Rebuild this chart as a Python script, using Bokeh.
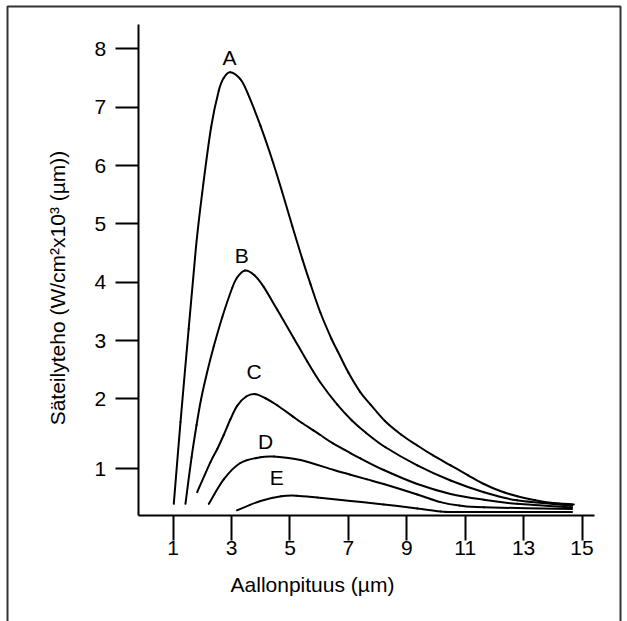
import math
import numpy as np
from bokeh.plotting import figure
from bokeh.models import LinearAxis, FixedTicker, Range1d, BoxAnnotation, Label
from bokeh.embed import file_html
from bokeh.resources import INLINE
from bokeh.core.properties import value

# ---- data ----
x_title = "Aallonpituus (µm)"
y_title = "Säteilyteho (W/cm²x10³ (µm))"

xtick_values = [1, 3, 5, 7, 9, 11, 13, 15]
xtick_labels = ["1", "3", "5", "7", "9", "11", "13", "15"]
ytick_values = [0.8, 2, 3, 4, 5, 6, 7, 8]
ytick_labels = ["1", "2", "3", "4", "5", "6", "7", "8"]

curve_names = ["A", "B", "C", "D", "E"]

a_x = [1.02, 1.25, 1.53, 1.78, 1.99, 2.30, 2.56, 2.73, 2.95, 3.30, 3.56, 3.99, 4.39, 4.73,
       5.08, 5.42, 5.70, 6.04, 6.42, 6.62, 7.00, 7.40, 7.76, 8.25, 8.80, 9.36, 9.90, 10.50,
       11.10, 11.64, 12.20, 12.78, 13.40, 13.92, 14.72]
a_y = [0.20, 1.60, 3.20, 4.60, 5.52, 6.66, 7.28, 7.50, 7.60, 7.48, 7.23, 6.68, 6.10, 5.55,
       4.96, 4.40, 3.97, 3.48, 3.03, 2.83, 2.45, 2.12, 1.90, 1.62, 1.39, 1.20, 1.03, 0.86,
       0.69, 0.54, 0.42, 0.33, 0.26, 0.22, 0.19]

b_x = [1.42, 1.63, 1.80, 1.95, 2.16, 2.39, 2.68, 3.02, 3.19, 3.46, 3.78, 4.10, 4.56, 5.13,
       5.59, 6.04, 6.62, 7.12, 7.60, 8.27, 9.36, 10.50, 11.64, 12.78, 14.66]
b_y = [0.20, 1.00, 1.55, 1.98, 2.45, 2.90, 3.40, 3.90, 4.08, 4.20, 4.12, 3.92, 3.53, 3.04,
       2.64, 2.28, 1.90, 1.63, 1.42, 1.17, 0.86, 0.60, 0.40, 0.26, 0.17]

c_x = [1.82, 2.28, 2.51, 2.73, 2.96, 3.19, 3.50, 3.82, 4.16, 4.56, 5.09, 5.40, 5.80, 6.04,
       6.46, 7.07, 7.41, 8.21, 9.36, 10.50, 11.64, 12.78, 14.66]
c_y = [0.40, 0.92, 1.14, 1.38, 1.65, 1.88, 2.04, 2.08, 2.01, 1.89, 1.70, 1.59, 1.46, 1.38,
       1.24, 1.07, 0.98, 0.78, 0.54, 0.37, 0.27, 0.20, 0.14]

d_x = [2.22, 2.73, 3.30, 3.99, 4.45, 5.36, 6.50, 7.07, 7.64, 8.21, 9.36, 10.15, 10.80,
       11.64, 14.66]
d_y = [0.20, 0.62, 0.90, 1.00, 1.01, 0.95, 0.78, 0.70, 0.62, 0.54, 0.36, 0.23, 0.17,
       0.14, 0.11]

e_x = [3.19, 3.99, 4.70, 5.22, 5.93, 7.07, 8.21, 9.36, 10.15, 11.00, 14.66]
e_y = [0.09, 0.25, 0.33, 0.34, 0.31, 0.25, 0.19, 0.12, 0.07, 0.06, 0.06]

label_x = [2.93, 3.35, 3.77, 4.16, 4.55]
label_y = [7.85, 4.45, 2.47, 1.27, 0.66]

# ---- figure ----
FONT = "Liberation Sans"
FSIZE = "21px"
p = figure(width=627, height=621, output_backend="svg", toolbar_location=None,
           x_axis_location=None, y_axis_location=None,
           x_range=Range1d(-4.914, 16.558), y_range=Range1d(-1.817, 8.829),
           min_border=0, outline_line_color=None,
           background_fill_color="white", border_fill_color="white")
p.grid.visible = False


def style_axis(ax, tick_out):
    ax.axis_line_width = 2
    ax.axis_line_color = "black"
    ax.major_tick_line_width = 2
    ax.major_tick_line_color = "black"
    ax.major_tick_out = tick_out
    ax.major_tick_in = 0
    ax.minor_tick_out = 0
    ax.minor_tick_in = 0
    ax.major_label_text_font = FONT
    ax.major_label_text_font_size = FSIZE
    ax.major_label_text_color = "black"


xaxis = LinearAxis(fixed_location=0, bounds=(-0.2, 15.43),
                   ticker=FixedTicker(ticks=xtick_values),
                   major_label_overrides={v: t for v, t in zip(xtick_values, xtick_labels)})
style_axis(xaxis, 25)
xaxis.major_label_standoff = 0
p.add_layout(xaxis, "below")

yaxis = LinearAxis(fixed_location=-0.2, bounds=(0, 8.42),
                   ticker=FixedTicker(ticks=ytick_values),
                   major_label_overrides={v: t for v, t in zip(ytick_values, ytick_labels)})
style_axis(yaxis, 23)
yaxis.major_label_standoff = 9
p.add_layout(yaxis, "left")


def smooth_curve(xs, ys):
    """Draw a smooth (Catmull-Rom as cubic Bezier) curve through the read points."""
    P = np.column_stack([xs, ys]).astype(float)
    n = len(P)
    seg = {k: [] for k in ("x0", "y0", "x1", "y1", "cx0", "cy0", "cx1", "cy1")}
    for i in range(n - 1):
        p0 = P[i - 1] if i > 0 else P[i]
        p1, p2 = P[i], P[i + 1]
        p3 = P[i + 2] if i + 2 < n else P[i + 1]
        c1 = p1 + (p2 - p0) / 6.0
        c2 = p2 - (p3 - p1) / 6.0
        seg["x0"].append(p1[0]); seg["y0"].append(p1[1])
        seg["x1"].append(p2[0]); seg["y1"].append(p2[1])
        seg["cx0"].append(c1[0]); seg["cy0"].append(c1[1])
        seg["cx1"].append(c2[0]); seg["cy1"].append(c2[1])
    p.bezier(**seg, line_color="black", line_width=2, line_cap="round")


for xs, ys in [(a_x, a_y), (b_x, b_y), (c_x, c_y), (d_x, d_y), (e_x, e_y)]:
    smooth_curve(xs, ys)

p.text(x=label_x, y=label_y, text=curve_names, text_font=value(FONT),
       text_font_size=value(FSIZE), text_align="center", text_baseline="middle",
       text_color="black")

p.add_layout(Label(x=5.77, y=-1.19, text=x_title, text_font=FONT, text_font_size=FSIZE,
                   text_align="center", text_baseline="middle", text_color="black"))
p.add_layout(Label(x=-2.96, y=3.90, text=y_title, text_font=FONT, text_font_size=FSIZE,
                   text_align="center", text_baseline="middle", text_color="black",
                   angle=math.pi / 2))

# frame box around the chart (open at the bottom, as in the reference)
p.add_layout(BoxAnnotation(left=7, right=620, top=615, bottom=-40,
                           left_units="screen", right_units="screen",
                           top_units="screen", bottom_units="screen",
                           fill_alpha=0, line_color="#333333", line_alpha=1.0,
                           line_width=2))

open("out.html", "w").write(file_html(p, INLINE))
